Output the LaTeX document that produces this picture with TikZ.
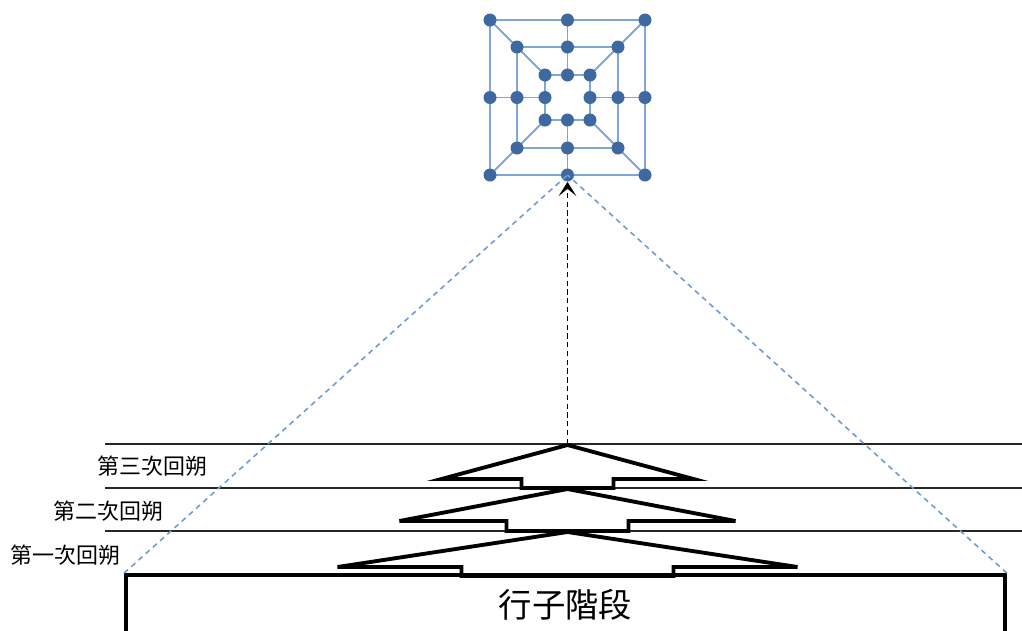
\documentclass[tikz,border=0pt]{standalone}
\usepackage{fontspec}
\newfontfamily\cjk{Noto Sans CJK TC}
\usetikzlibrary{arrows.meta,positioning,backgrounds}

\definecolor{boardline}{HTML}{7EA6D8}
\definecolor{boarddot}{HTML}{3D68A0}
\definecolor{projline}{HTML}{6F9BD2}

\tikzset{
  dot/.style={circle,fill=boarddot,inner sep=0pt,minimum size=0.26cm},
  boardedge/.style={draw=boardline,line width=1.1pt},
  level/.style={draw=black!85,line width=0.8pt},
  stage/.style={draw,line width=2.2pt},
  roundlbl/.style={font=\cjk\fontsize{12.5}{14}\selectfont,anchor=west,inner sep=0pt},
  stagebox/.style={draw,line width=2.2pt,minimum width=17.58cm,minimum height=1.2cm,
    font=\cjk\fontsize{19}{22}\selectfont,inner sep=0pt},
  proj/.style={draw=projline,line width=0.9pt,dash pattern=on 3pt off 2.5pt},
}

\begin{document}
\begin{tikzpicture}[x=0.02cm,y=-0.02cm]
\useasboundingbox (0,0) rectangle (1022,630);

% board: three squares, corners and midpoints
\foreach \s/\h in {1/77.5,2/50.5,3/22.5}{
  \node[dot] (q\s-a) at (567.5-\h,97.5-\h) {};
  \node[dot] (q\s-b) at (567.5,97.5-\h) {};
  \node[dot] (q\s-c) at (567.5+\h,97.5-\h) {};
  \node[dot] (q\s-d) at (567.5+\h,97.5) {};
  \node[dot] (q\s-e) at (567.5+\h,97.5+\h) {};
  \node[dot] (q\s-f) at (567.5,97.5+\h) {};
  \node[dot] (q\s-g) at (567.5-\h,97.5+\h) {};
  \node[dot] (q\s-h) at (567.5-\h,97.5) {};
}
\begin{scope}[on background layer]
\foreach \s in {1,2,3}
  \draw[boardedge] (q\s-a.center) -- (q\s-c.center) -- (q\s-e.center) -- (q\s-g.center) -- cycle;
\foreach \p in {a,b,c,d,e,f,g,h}
  \draw[boardedge] (q1-\p.center) -- (q2-\p.center) -- (q3-\p.center);
\end{scope}

% rounds
\draw[level] (105,444) -- (1022,444);
\draw[level] (105,488) -- (1022,488);
\draw[level] (105,531) -- (1022,531);

\node[roundlbl] (r3) at (97,466) {第三次回朔};
\node[roundlbl] (r2) at (53,511) {第二次回朔};
\node[roundlbl] (r1) at (10,555) {第一次回朔};

\foreach \ay/\ty/\by/\tw/\sw in {445/479/488/126/46, 489/521/531/168/61, 532/567/576/230/106}
  \draw[stage] (567.5,\ay) -- (567.5-\tw,\ty) -- (567.5-\sw,\ty) -- (567.5-\sw,\by)
    -- (567.5+\sw,\by) -- (567.5+\sw,\ty) -- (567.5+\tw,\ty) -- cycle;

\node[stagebox] (play) at (565.5,605) {行子階段};
\coordinate (apex) at (567.5,444);

\draw[proj] (play.north west) -- (q1-f.center);
\draw[proj] (play.north east) -- (q1-f.center);
\draw[densely dashed,line width=0.8pt,-{Stealth[length=8pt,width=10pt,inset=4pt]}] (apex) -- (q1-f.south);

\end{tikzpicture}
\end{document}
